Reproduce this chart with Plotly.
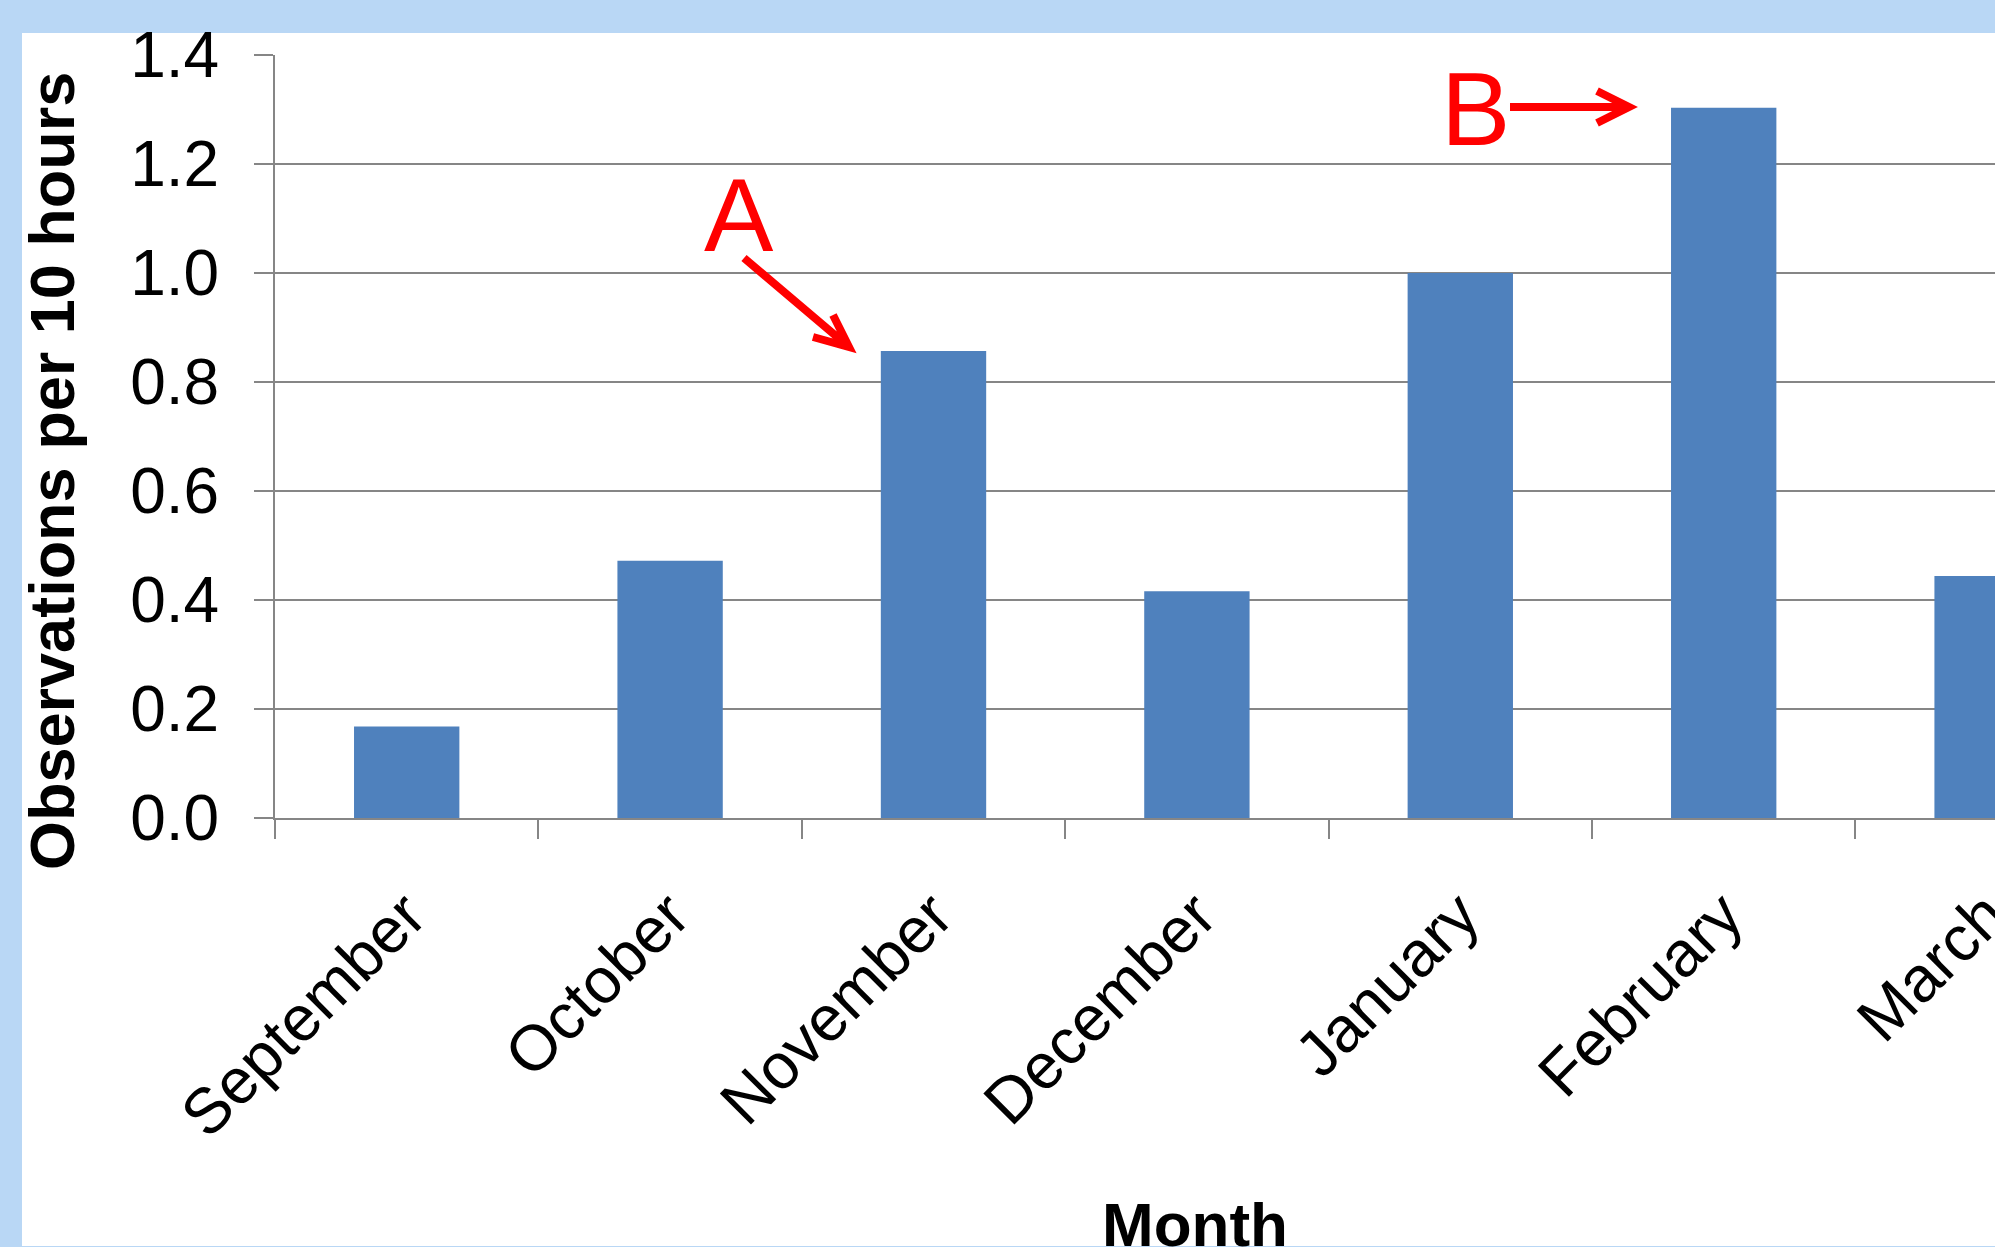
import plotly.graph_objects as go

months = ["September", "October", "November", "December", "January", "February", "March"]
observations = [0.168, 0.472, 0.857, 0.416, 1.0, 1.303, 0.444]
y_ticks = [0.0, 0.2, 0.4, 0.6, 0.8, 1.0, 1.2, 1.4]
y_tick_labels = ["0.0", "0.2", "0.4", "0.6", "0.8", "1.0", "1.2", "1.4"]

FIG_W, FIG_H = 1995, 1247
L, T, R, B = 275, 55, 1995, 818
PW, PH = R - L, B - T


def px(x):
    return (x - L) / PW


def py(y):
    return (B - y) / PH


FONT = "Liberation Sans, Arial, sans-serif"
GRID = "#868686"
RED = "#FF0000"

fig = go.Figure()
fig.add_trace(go.Bar(x=months, y=observations, marker=dict(color="#4F81BD", line=dict(width=0)), width=0.4))

fig.update_layout(
    width=FIG_W, height=FIG_H,
    margin=dict(l=L, r=FIG_W - R, t=T, b=FIG_H - B, pad=0),
    paper_bgcolor="#B9D7F5",
    plot_bgcolor="white",
    showlegend=False,
    font=dict(family=FONT, color="black"),
)

fig.update_xaxes(
    type="category",
    range=[-0.5, -0.5 + PW / 263.4],
    showgrid=False,
    showline=True, linecolor=GRID, linewidth=2,
    ticks="outside", tickson="boundaries", ticklen=19, tickwidth=2, tickcolor=GRID,
    tickangle=-45,
    tickfont=dict(size=64, family=FONT, color="black"),
    ticklabelstandoff=32,
    automargin=False,
)
fig.update_yaxes(
    range=[0, 1.4],
    tickvals=y_ticks, ticktext=y_tick_labels,
    showgrid=True, gridcolor=GRID, gridwidth=2,
    showline=True, linecolor=GRID, linewidth=2,
    ticks="outside", ticklen=19, tickwidth=2, tickcolor=GRID,
    tickfont=dict(size=64, family=FONT, color="black"),
    ticklabelstandoff=22,
    zeroline=False,
    automargin=False,
)

shapes = [
    dict(type="rect", xref="paper", yref="paper", layer="below",
         x0=px(22), x1=px(FIG_W + 5), y0=py(1246), y1=py(33),
         fillcolor="white", line=dict(width=0)),
    # arrow A
    dict(type="path", xref="paper", yref="paper",
         path=f"M {px(744)} {py(258)} L {px(849)} {py(347)} M {px(833)} {py(315)} L {px(849)} {py(347)} L {px(813)} {py(337)}",
         line=dict(color=RED, width=8)),
    # arrow B
    dict(type="path", xref="paper", yref="paper",
         path=f"M {px(1510)} {py(107)} L {px(1629)} {py(107)} M {px(1597)} {py(91)} L {px(1629)} {py(107)} L {px(1597)} {py(123)}",
         line=dict(color=RED, width=8)),
]
fig.update_layout(shapes=shapes)

annotations = [
    dict(text="<b>Observations per 10 hours</b>", xref="paper", yref="paper",
         x=px(52), y=py(471), xanchor="center", yanchor="middle", textangle=-90,
         showarrow=False, font=dict(size=63, family=FONT, color="black")),
    dict(text="<b>Month</b>", xref="paper", yref="paper",
         x=px(1195), y=py(1188), xanchor="center", yanchor="top",
         showarrow=False, font=dict(size=62, family=FONT, color="black")),
    dict(text="A", xref="paper", yref="paper",
         x=px(739), y=py(215), xanchor="center", yanchor="middle",
         showarrow=False, font=dict(size=104, family=FONT, color=RED)),
    dict(text="B", xref="paper", yref="paper",
         x=px(1475), y=py(109), xanchor="center", yanchor="middle",
         showarrow=False, font=dict(size=104, family=FONT, color=RED)),
]
fig.update_layout(annotations=annotations)

fig.write_html("out.html")
